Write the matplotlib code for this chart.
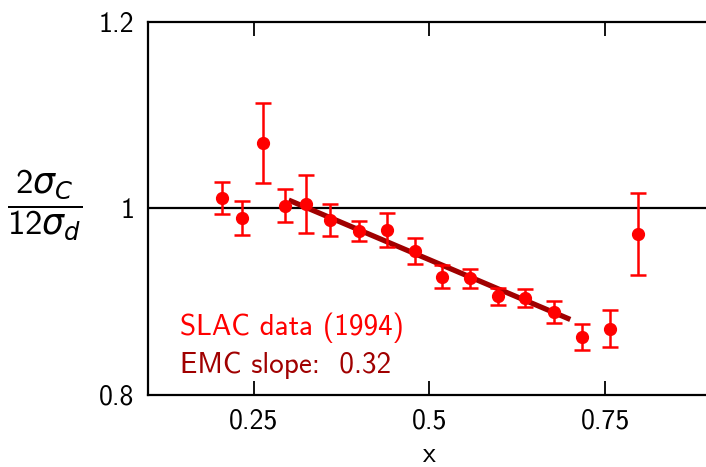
import matplotlib
matplotlib.use('Agg')
import matplotlib.pyplot as plt

plt.rcParams['font.family'] = ['cmss10', 'DejaVu Sans']
plt.rcParams['mathtext.fontset'] = 'custom'
plt.rcParams['mathtext.rm'] = 'cmss10'
plt.rcParams['mathtext.sf'] = 'cmss10'
plt.rcParams['mathtext.it'] = 'DejaVu Sans:italic'
plt.rcParams['axes.formatter.use_mathtext'] = True

# SLAC data (1994)
x = [0.205, 0.234, 0.264, 0.295, 0.324, 0.358, 0.400, 0.439, 0.479,
     0.518, 0.557, 0.597, 0.636, 0.677, 0.716, 0.756, 0.796]
y = [1.011, 0.990, 1.070, 1.003, 1.005, 0.988, 0.976, 0.977, 0.954,
     0.927, 0.925, 0.906, 0.904, 0.889, 0.862, 0.871, 0.973]
yerr = [0.017, 0.018, 0.043, 0.018, 0.031, 0.017, 0.011, 0.018, 0.014,
        0.012, 0.010, 0.009, 0.010, 0.012, 0.014, 0.020, 0.044]

# EMC slope fit
fit_x = [0.3, 0.7]
fit_y = [1.009, 0.881]

fig = plt.figure(figsize=(7.06, 4.67), dpi=100)
ax = fig.add_axes([0.2096, 0.1542, 0.7975, 0.7987])

ax.axhline(1.0, color='black', lw=1.6, zorder=1)
ax.errorbar(x, y, yerr=yerr, fmt='o', color='#ff0000', ms=8.5,
            elinewidth=1.8, capsize=6, capthick=1.8, zorder=3)
ax.plot(fit_x, fit_y, color='#a00000', lw=3.8, solid_capstyle='butt', zorder=2)

ax.text(0.146, 0.872, 'SLAC data (1994)', color='#ff0000', fontsize=21, va='center')
ax.text(0.146, 0.832, 'EMC slope:  0.32', color='#a00000', fontsize=21, va='center')

ax.set_xlim(0.1, 0.9)
ax.set_ylim(0.8, 1.2)
ax.set_xticks([0.25, 0.5, 0.75])
ax.set_xticklabels(['0.25', '0.5', '0.75'])
ax.set_yticks([0.8, 1.0, 1.2])
ax.set_yticklabels(['0.8', '1', '1.2'])
ax.tick_params(direction='in', length=10, width=1.3, labelsize=20,
               top=True, right=True, pad=10)
for s in ax.spines.values():
    s.set_linewidth(1.6)

ax.set_xlabel('x', fontsize=20, labelpad=6)
ax.set_ylabel(r'$\dfrac{2\sigma_C}{12\sigma_d}$',
              fontsize=25, rotation=0, va='center', ha='center')
ax.yaxis.set_label_coords(-0.183, 0.51)

fig.savefig('out.png', dpi=100)
